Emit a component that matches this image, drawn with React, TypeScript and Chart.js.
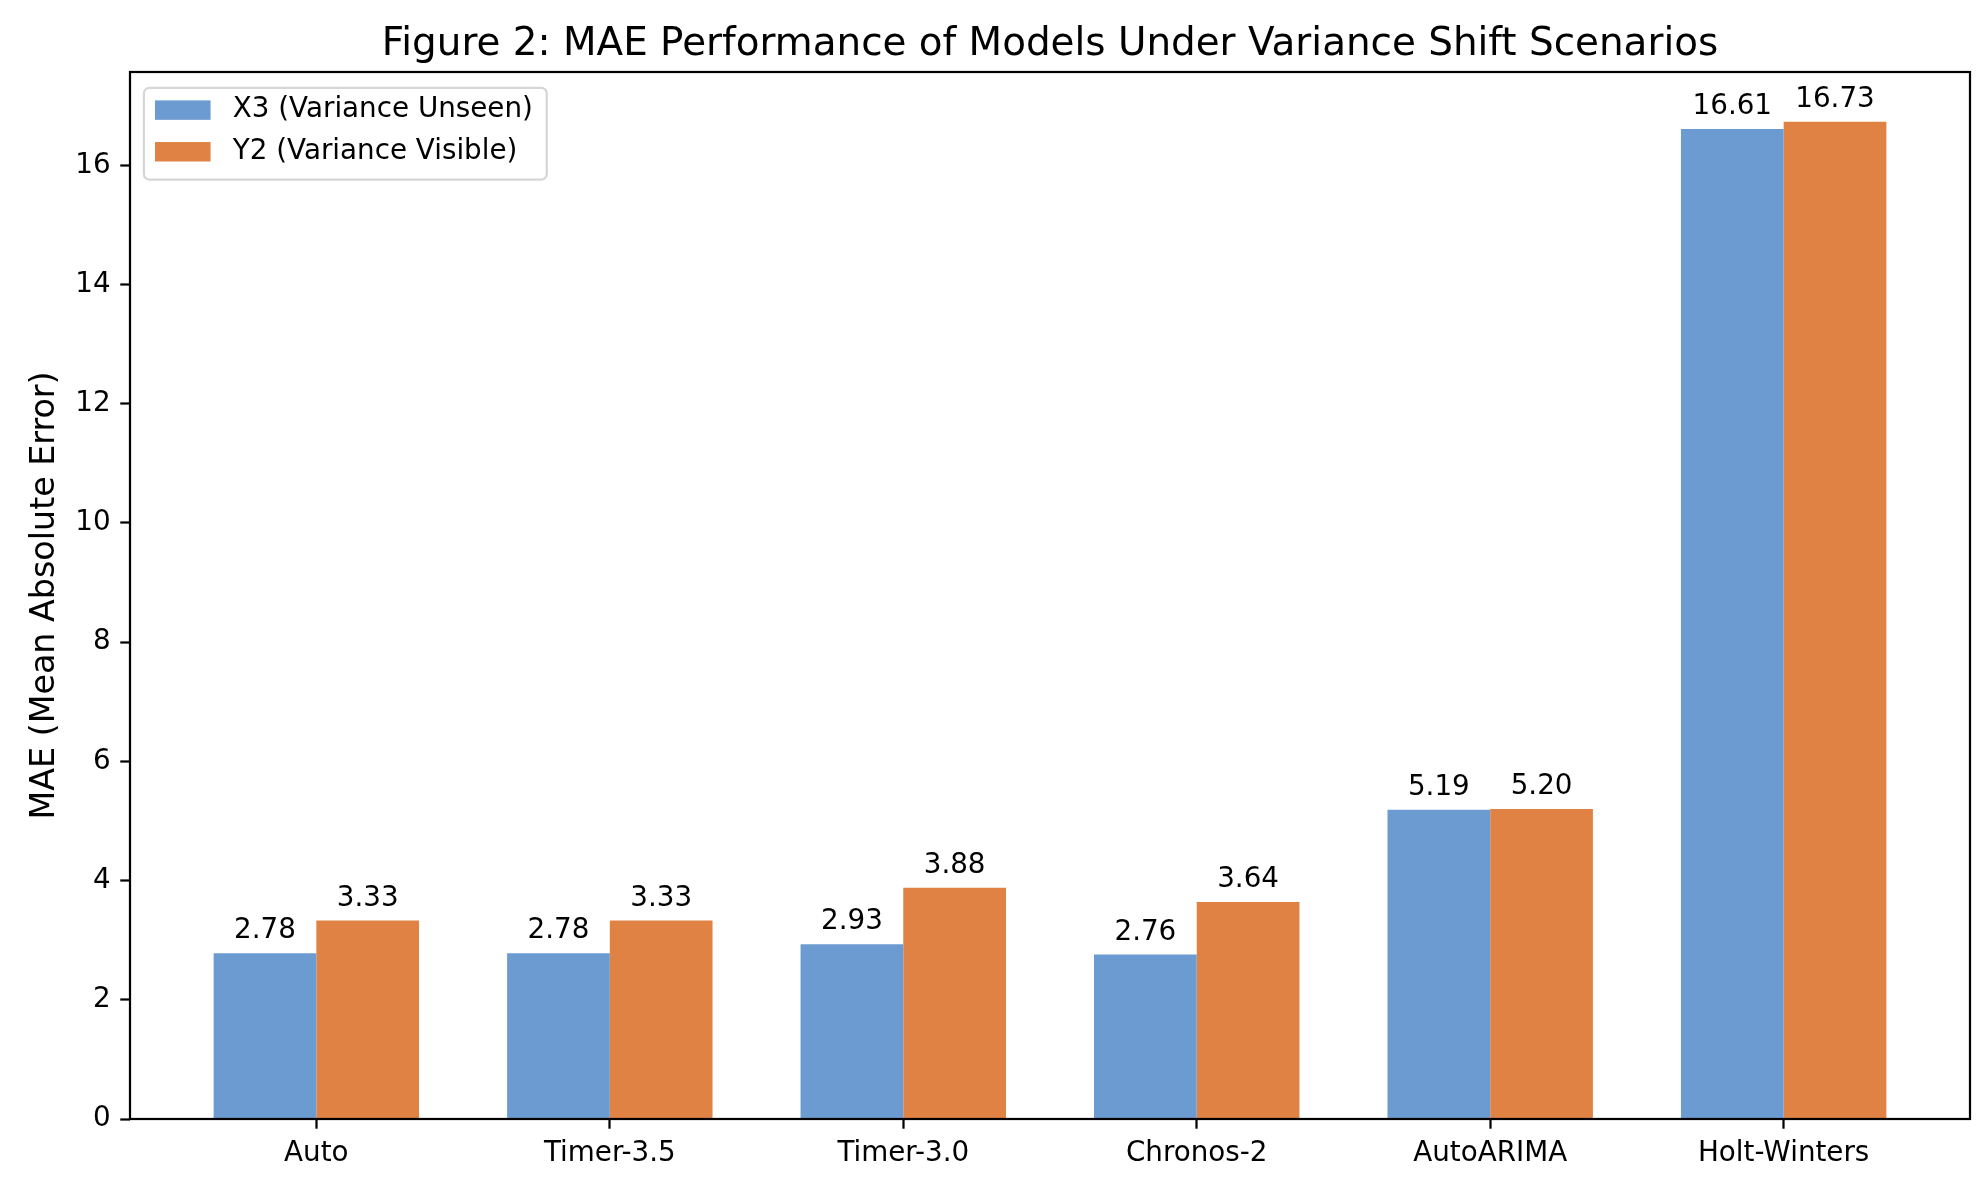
import { useEffect, useRef } from "react";
import { Chart, registerables } from "chart.js";

Chart.register(...registerables);

const models = ["Auto", "Timer-3.5", "Timer-3.0", "Chronos-2", "AutoARIMA", "Holt-Winters"];
const x3Values = [2.78, 2.78, 2.93, 2.76, 5.19, 16.61];
const y2Values = [3.33, 3.33, 3.88, 3.64, 5.2, 16.73];
const yTicks = [0, 2, 4, 6, 8, 10, 12, 14, 16];
const seriesNames = ["X3 (Variance Unseen)", "Y2 (Variance Visible)"];
const seriesColors = ["#6B9BD1", "#DF8244"];

const FONT = "'DejaVu Sans', sans-serif";
const PT = 200 / 72; // source figure is 200 dpi
const BAR_W = 0.35;

// matplotlib-style auto limits
const yMax = Math.max(...x3Values, ...y2Values) * 1.05;
const xSpan = models.length - 1 + 2 * BAR_W;
const xMin = -BAR_W - 0.05 * xSpan;
const xMax = models.length - 1 + BAR_W + 0.05 * xSpan;

const extras = {
  id: "extras",
  afterDatasetsDraw(chart: any) {
    const { ctx, chartArea } = chart;
    ctx.save();
    const fs = 10 * PT;
    ctx.font = `${fs}px ${FONT}`;
    ctx.fillStyle = "#000";
    ctx.textAlign = "center";
    ctx.textBaseline = "alphabetic";
    chart.data.datasets.forEach((ds: any, di: number) => {
      chart.getDatasetMeta(di).data.forEach((bar: any, i: number) => {
        ctx.fillText(ds.data[i].y.toFixed(2), bar.x, bar.y - 3 * PT - 0.236 * fs);
      });
    });
    // axes frame
    ctx.strokeStyle = "#000";
    ctx.lineWidth = 0.8 * PT;
    ctx.strokeRect(chartArea.left, chartArea.top, chartArea.right - chartArea.left, chartArea.bottom - chartArea.top);
    ctx.restore();
  },
  afterDraw(chart: any) {
    const { ctx, chartArea } = chart;
    const fs = 10 * PT;
    ctx.save();
    ctx.font = `${fs}px ${FONT}`;
    const textW = Math.max(...seriesNames.map((n) => ctx.measureText(n).width));
    const left = chartArea.left + 0.5 * fs;
    const top = chartArea.top + 0.5 * fs + 2;
    const w = 0.4 * fs + 2 * fs + 0.8 * fs + textW + 0.5 * fs;
    const h = 0.8 * fs + 2 * fs + 0.5 * fs;
    ctx.beginPath();
    ctx.roundRect(left, top, w, h, 0.2 * fs);
    ctx.fillStyle = "rgba(255,255,255,0.8)";
    ctx.fill();
    ctx.strokeStyle = "#d6d6d6";
    ctx.lineWidth = 0.8 * PT;
    ctx.stroke();
    ctx.textAlign = "left";
    ctx.textBaseline = "middle";
    seriesNames.forEach((name, i) => {
      const cy = top + 0.4 * fs + 0.4 * fs + i * 1.5 * fs;
      ctx.fillStyle = seriesColors[i];
      ctx.fillRect(left + 0.4 * fs, cy - 0.35 * fs, 2 * fs, 0.7 * fs);
      ctx.fillStyle = "#000";
      ctx.fillText(name, left + 3.2 * fs, cy);
    });
    ctx.restore();
  },
};

const tickFont = { family: FONT, size: 10 * PT };

export default function App() {
  const ref = useRef<HTMLCanvasElement>(null);

  useEffect(() => {
    document.body.style.margin = "0";
    const chart = new Chart(ref.current!, {
      type: "bar",
      data: {
        datasets: [x3Values, y2Values].map((vals, di) => ({
          label: seriesNames[di],
          data: vals.map((v, i) => ({ x: i, y: v })),
          backgroundColor: seriesColors[di],
          borderWidth: 0,
          categoryPercentage: 2 * BAR_W,
          barPercentage: 1,
        })),
      },
      options: {
        animation: false,
        responsive: true,
        maintainAspectRatio: false,
        layout: { padding: { top: 0, left: 0, right: 18, bottom: 0 } },
        plugins: {
          legend: { display: false },
          tooltip: { enabled: false },
          title: {
            display: true,
            text: "Figure 2: MAE Performance of Models Under Variance Shift Scenarios",
            color: "#000",
            font: { family: FONT, size: 14 * PT, weight: "normal" },
            fullSize: false,
            padding: { top: 22, bottom: 72 - 22 - 14 * PT * 1.2 },
          },
        },
        scales: {
          x: {
            type: "linear",
            min: xMin,
            max: xMax,
            bounds: "data",
            offset: false,
            afterBuildTicks: (s: any) => {
              s.ticks = models.map((_, i) => ({ value: i }));
            },
            afterFit: (s: any) => {
              s.height = 79;
            },
            ticks: {
              callback: (v: any) => models[Math.round(Number(v))],
              font: tickFont,
              color: "#000",
              padding: 8,
              maxRotation: 0,
              autoSkip: false,
            },
            grid: {
              drawOnChartArea: false,
              drawTicks: true,
              tickLength: 3.5 * PT,
              tickColor: "#000",
              tickWidth: 0.8 * PT,
              offset: false,
            },
            border: { display: false },
          },
          y: {
            type: "linear",
            min: 0,
            max: yMax,
            bounds: "data",
            afterBuildTicks: (s: any) => {
              s.ticks = yTicks.map((v) => ({ value: v }));
            },
            afterFit: (s: any) => {
              s.width = 130;
            },
            ticks: {
              callback: (v: any) => String(v),
              font: tickFont,
              color: "#000",
              padding: 3.5 * PT,
            },
            grid: {
              drawOnChartArea: false,
              drawTicks: true,
              tickLength: 3.5 * PT,
              tickColor: "#000",
              tickWidth: 0.8 * PT,
            },
            border: { display: false },
            title: {
              display: true,
              text: "MAE (Mean Absolute Error)",
              color: "#000",
              font: { family: FONT, size: 12 * PT },
              padding: { top: 25, bottom: 0 },
            },
          },
        },
      },
      plugins: [extras],
    } as any);
    return () => chart.destroy();
  }, []);

  return (
    <div style={{ width: 1988, height: 1198, position: "relative" }}>
      <canvas ref={ref} />
    </div>
  );
}
